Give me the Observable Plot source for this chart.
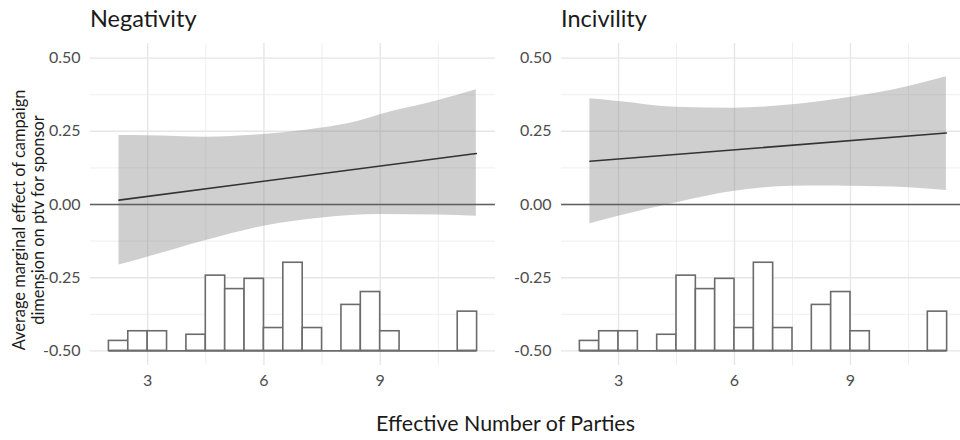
<!DOCTYPE html>
<html><head><meta charset="utf-8">
<script src="https://cdn.jsdelivr.net/npm/d3@7"></script>
<script src="https://cdn.jsdelivr.net/npm/@observablehq/plot@0.6"></script>
<style>
body{margin:0;background:#fff;}
#wrap{position:relative;width:960px;height:440px;overflow:hidden;font-family:Lato,"Open Sans",sans-serif;background:#fff;}
.panel{position:absolute;top:0;}
.ptitle{position:absolute;top:4px;font-size:23.5px;color:#1a1a1a;white-space:nowrap;}
#xtitle{position:absolute;left:0;width:1011px;top:410px;text-align:center;font-size:21.4px;color:#1a1a1a;}
#ytitle{position:absolute;left:-172px;top:201px;width:400px;height:38px;line-height:19px;text-align:center;font-size:16.4px;color:#1a1a1a;transform:rotate(-90deg);transform-origin:center;white-space:nowrap;}
</style></head><body>
<div id="wrap">
  <div class="ptitle" style="left:90px">Negativity</div>
  <div class="ptitle" style="left:561px">Incivility</div>
  <div id="ytitle">Average marginal effect of campaign<br>dimension on ptv for sponsor</div>
  <div id="xtitle">Effective Number of Parties</div>
</div>
<script>
// ---- data ----
const panels = ["Negativity", "Incivility"];
const xTitle = "Effective Number of Parties";
const yTicks = [-0.5, -0.25, 0, 0.25, 0.5];
const yMinor = [-0.375, -0.125, 0.125, 0.375];
const xTicks = [3, 6, 9];
const xMinor = [4.5, 7.5, 10.5];

// histogram of effective number of parties (same in both panels), bins of width 0.5
const binStart = [2.0, 2.5, 3.0, 3.5, 4.0, 4.5, 5.0, 5.5, 6.0, 6.5, 7.0, 7.5, 8.0, 8.5, 9.0, 9.5, 10.0, 10.5, 11.0];
const binTop   = [-0.466, -0.433, -0.433, -0.5, -0.445, -0.243, -0.289, -0.254, -0.422, -0.199, -0.422, -0.5, -0.343, -0.299, -0.433, -0.5, -0.5, -0.5, -0.366];
const binWidth = 0.5;

// confidence ribbons and marginal effect lines
const ribbonX = [2.26, 3.0, 4.5, 6.0, 7.5, 8.25, 9.0, 10.5, 11.48];
const negUpper = [0.236, 0.235, 0.230, 0.239, 0.261, 0.278, 0.307, 0.355, 0.392];
const negLower = [-0.207, -0.180, -0.123, -0.074, -0.046, -0.038, -0.034, -0.036, -0.040];
const incUpper = [0.361, 0.352, 0.332, 0.329, 0.341, 0.352, 0.366, 0.403, 0.436];
const incLower = [-0.066, -0.040, 0.006, 0.045, 0.062, 0.063, 0.062, 0.057, 0.048];
const lineX = [2.26, 11.48];
const negLine = [0.015, 0.174];
const incLine = [0.148, 0.244];

const bins = binStart.map((s, i) => ({x1: s, x2: s + binWidth, top: binTop[i]}));
const nonEmpty = bins.filter(b => b.top > -0.5);
const ribbons = {
  Negativity: ribbonX.map((x, i) => ({x, lo: negLower[i], hi: negUpper[i]})),
  Incivility: ribbonX.map((x, i) => ({x, lo: incLower[i], hi: incUpper[i]}))
};
const lines = {
  Negativity: lineX.map((x, i) => ({x, y: negLine[i]})),
  Incivility: lineX.map((x, i) => ({x, y: incLine[i]}))
};

function panel(name, width, marginLeft, marginRight) {
  return Plot.plot({
    width, height: 400,
    marginLeft, marginRight, marginTop: 43, marginBottom: 35,
    style: {fontFamily: "Lato, 'Open Sans', sans-serif", fontSize: "16px", color: "#4d4d4d", background: "transparent", overflow: "visible"},
    x: {domain: [1.525, 11.975], ticks: xTicks, tickSize: 0, tickPadding: 9, label: null, tickFormat: d => String(d)},
    y: {domain: [-0.55, 0.55], ticks: yTicks, tickSize: 0, tickPadding: 10, label: null, tickFormat: d => d.toFixed(2)},
    marks: [
      Plot.ruleY(yMinor, {stroke: "#ececec", strokeWidth: 0.9}),
      Plot.ruleX(xMinor, {stroke: "#ececec", strokeWidth: 0.9}),
      Plot.ruleY(yTicks, {stroke: "#e6e6e6", strokeWidth: 1.4}),
      Plot.ruleX(xTicks, {stroke: "#e6e6e6", strokeWidth: 1.4}),
      Plot.ruleY([-0.5], {x1: binStart[0], x2: binStart[binStart.length - 1] + binWidth, stroke: "#6b6b6b", strokeWidth: 1.6}),
      Plot.rectY(nonEmpty, {x1: "x1", x2: "x2", y1: -0.5, y2: "top", fill: "white", stroke: "#6b6b6b", strokeWidth: 1.6}),
      Plot.areaY(ribbons[name], {x: "x", y1: "lo", y2: "hi", fill: "#8c8c8c", fillOpacity: 0.42, curve: "monotone-x"}),
      Plot.ruleY([0], {stroke: "#5f5f5f", strokeWidth: 1.6}),
      Plot.line(lines[name], {x: "x", y: "y", stroke: "#333333", strokeWidth: 1.6})
    ]
  });
}

const wrap = document.getElementById("wrap");
const left = panel("Negativity", 500, 90, 5);
left.classList.add("panel"); left.style.left = "0px";
const right = panel("Incivility", 495, 91, 0);
right.classList.add("panel"); right.style.left = "470px";
wrap.insertBefore(right, wrap.firstChild);
wrap.insertBefore(left, wrap.firstChild);
</script>
</body></html>
